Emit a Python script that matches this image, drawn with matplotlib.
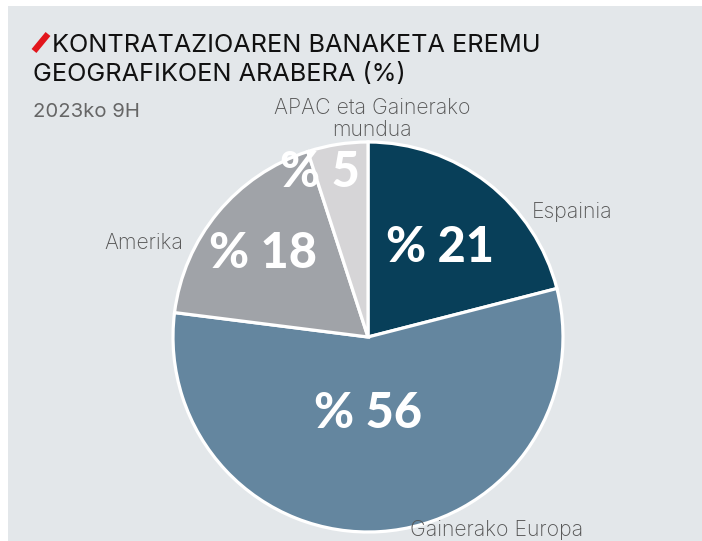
import numpy as np
import matplotlib.pyplot as plt
from matplotlib.patches import Rectangle
from matplotlib.lines import Line2D

# ---- data ----
categories = ["Espainia", "Gainerako Europa", "Amerika", "APAC eta Gainerako\nmundua"]
values = [21, 56, 18, 5]
pct_labels = ["% 21", "% 56", "% 18", "% 5"]
title_lines = ["KONTRATAZIOAREN BANAKETA EREMU", "GEOGRAFIKOEN ARABERA (%)"]
subtitle = "2023ko 9H"

# ---- style ----
colors = ["#083f59", "#64869f", "#a0a3a8", "#d6d5d7"]
bg = "#e3e7ea"
FONT = "Inter"
PFONT = "Lato"

W, H = 702, 541
fig = plt.figure(figsize=(W / 100, H / 100), dpi=100)
fig.patch.set_facecolor("white")
fig.add_artist(Rectangle((8 / W, -0.02), 1.05, 1.02 - 6 / H, transform=fig.transFigure,
                         facecolor=bg, edgecolor="none", zorder=0))

# red slash
fig.add_artist(Line2D([34 / W, 48 / W], [1 - 51 / H, 1 - 34 / H], transform=fig.transFigure,
                      color="#e2161c", lw=4.5, solid_capstyle="butt"))
fig.text(52 / W, 1 - 43.5 / H, title_lines[0], fontsize=18.2, family=FONT, color="#111111",
         va="center_baseline", ha="left")
fig.text(33 / W, 1 - 71.5 / H, title_lines[1], fontsize=18.2, family=FONT, color="#111111",
         va="center_baseline", ha="left")
fig.text(33 / W, 1 - 110 / H, subtitle, fontsize=14.6, family=FONT, color="#666666",
         va="center_baseline", ha="left")

# pie axes
cx, cy, R = 368, 337, 195
ax = fig.add_axes([(cx - R) / W, (H - cy - R) / H, 2 * R / W, 2 * R / H])

wedges, _ = ax.pie(values, colors=colors, startangle=90, counterclock=False, radius=1,
                   wedgeprops=dict(edgecolor="white", linewidth=2.3))
ax.set_xlim(-1, 1)
ax.set_ylim(-1, 1)
ax.set_aspect("equal")
ax.axis("off")

pct_r = [0.59, 0.39, 0.69, 0.88]
pct_da = [-0.9, -3.6, 1.2, 7.2]
lab_r = [1.056, 1.19, 1.064, 1.12]
lab_da = [-14.9, 30.0, 12.8, -10.0]
lab_ha = ["left", "center", "right", "center"]

for w, p, pr, pda, cat, lr, lda, ha in zip(wedges, pct_labels, pct_r, pct_da,
                                          categories, lab_r, lab_da, lab_ha):
    mid = (w.theta1 + w.theta2) / 2
    a = np.deg2rad(mid + pda)
    ax.text(pr * np.cos(a), pr * np.sin(a), p, ha="center", va="center",
            fontsize=35, fontweight="black", family=PFONT, color="white")
    b = np.deg2rad(mid + lda)
    ax.text(lr * np.cos(b), lr * np.sin(b), cat, ha=ha, va="center",
            fontsize=15.3, fontweight="light", family=FONT, color="#555555",
            linespacing=1.15)

fig.savefig("out.png", dpi=100, facecolor=fig.get_facecolor())
